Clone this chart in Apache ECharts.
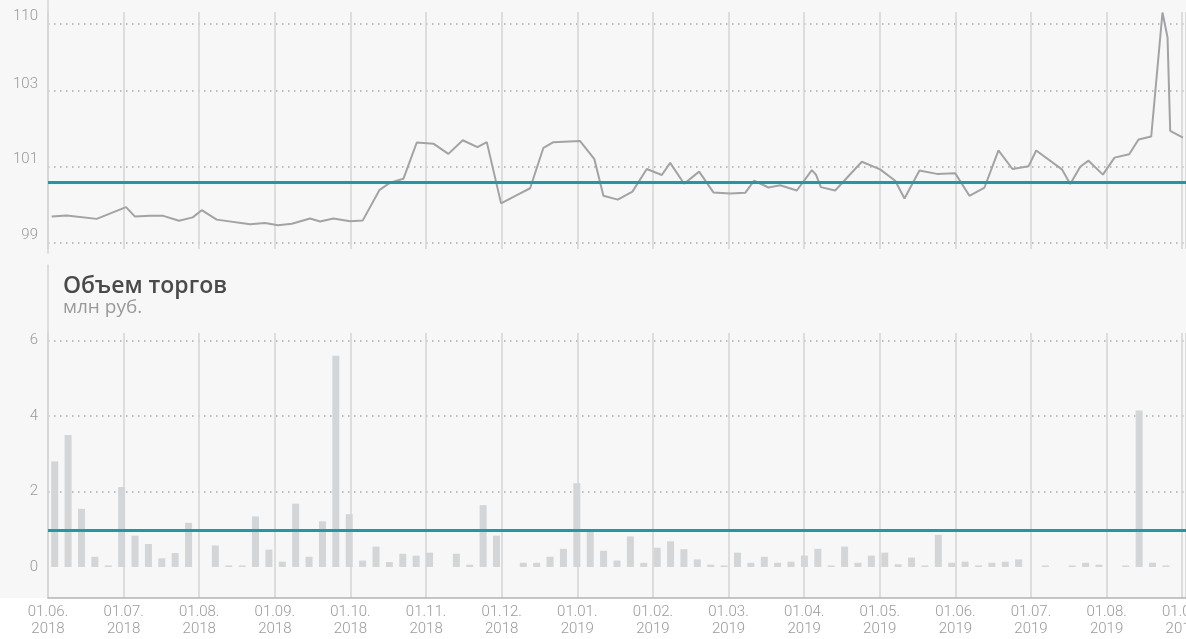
<!DOCTYPE html>
<html>
<head>
<meta charset="utf-8">
<script src="https://cdn.jsdelivr.net/npm/echarts@6/dist/echarts.min.js"></script>
<style>
html, body { margin: 0; padding: 0; background: #fff; }
#chart { width: 1186px; height: 639px; background: linear-gradient(#f7f7f7 598px, #fff 598px); }
</style>
</head>
<body>
<div id="chart"></div>
<script>
// month ticks along the bottom (one per month, evenly spaced)
var monthLabels = ['01.06.\n2018', '01.07.\n2018', '01.08.\n2018', '01.09.\n2018', '01.10.\n2018',
  '01.11.\n2018', '01.12.\n2018', '01.01.\n2019', '01.02.\n2019', '01.03.\n2019', '01.04.\n2019',
  '01.05.\n2019', '01.06.\n2019', '01.07.\n2019', '01.08.\n2019', '01.09.\n2019']

// price line: position in months from 01.06.2018, and price
var priceMonth = [0.049, 0.247, 0.644, 1.032, 1.151, 1.349, 1.525, 1.733, 1.914, 2.033, 2.231, 2.672,
  2.870, 3.042, 3.224, 3.466, 3.598, 3.774, 3.995, 4.163, 4.382, 4.524, 4.700, 4.877, 5.097, 5.295,
  5.485, 5.679, 5.803, 5.992, 6.200, 6.376, 6.552, 6.684, 7.037, 7.226, 7.345, 7.536, 7.729, 7.919,
  8.118, 8.228, 8.413, 8.611, 8.800, 9.021, 9.220, 9.339, 9.528, 9.683, 9.903, 10.102, 10.159, 10.221,
  10.410, 10.763, 11.005, 11.204, 11.327, 11.525, 11.755, 11.997, 12.186, 12.385, 12.570, 12.755,
  12.967, 13.069, 13.409, 13.519, 13.651, 13.761, 13.951, 14.105, 14.299, 14.422, 14.590, 14.739,
  14.806, 14.841, 15.009]
var price = [99.68, 99.71, 99.62, 99.93, 99.68, 99.70, 99.70, 99.57, 99.66, 99.85, 99.60, 99.48,
  99.51, 99.45, 99.49, 99.63, 99.55, 99.63, 99.56, 99.58, 100.38, 100.58, 100.68, 101.64, 101.61, 101.34,
  101.70, 101.52, 101.65, 100.03, 100.25, 100.43, 101.50, 101.65, 101.68, 101.20, 100.23, 100.13, 100.34, 100.94,
  100.78, 101.10, 100.55, 100.87, 100.32, 100.29, 100.31, 100.63, 100.45, 100.51, 100.37, 100.91, 100.78, 100.46,
  100.37, 101.13, 100.93, 100.63, 100.16, 100.90, 100.81, 100.83, 100.23, 100.45, 101.43, 100.94,
  101.01, 101.43, 100.93, 100.54, 101.00, 101.16, 100.79, 101.24, 101.33, 101.72, 101.80, 105.08,
  104.42, 101.95, 101.77]
var priceAvg = 100.59
var priceTicks = [99, 101, 103, 104.79]
var priceTickLabels = ['99', '101', '103', '110']

// trading volume, mln rub, one bar per period
var volume = [2.8, 3.5, 1.54, 0.27, 0.04, 2.12, 0.83, 0.61, 0.23, 0.37, 1.17, 0, 0.57, 0.04, 0.04, 1.34,
  0.46, 0.14, 1.68, 0.27, 1.21, 5.6, 1.40, 0.17, 0.54, 0.13, 0.35, 0.30, 0.38, 0, 0.35, 0.06, 1.64, 0.83,
  0, 0.11, 0.11, 0.27, 0.48, 2.22, 0.95, 0.43, 0.17, 0.81, 0.11, 0.51, 0.68, 0.47, 0.20, 0.06, 0.04, 0.38,
  0.11, 0.27, 0.11, 0.14, 0.30, 0.48, 0.04, 0.54, 0.11, 0.30, 0.38, 0.07, 0.25, 0.04, 0.85, 0.11, 0.14,
  0.04, 0.11, 0.14, 0.20, 0, 0.04, 0, 0.04, 0.11, 0.06, 0, 0.04, 4.15, 0.11, 0.04, null]
var volumeAvg = 0.98
var volumeTicks = [0, 2, 4, 6]

var myChart = echarts.init(document.getElementById('chart'))

var labelFont = { fontFamily: 'Roboto', fontWeight: 300, fontSize: 15, color: '#9a9a9a' }
var monthLine = { lineStyle: { color: '#d4d4d4', width: 1.5 } }
var dotLine = { lineStyle: { color: '#ababab', width: 1.5, type: [1.5, 4.5] } }
var teal = { color: '#1a9ba7', width: 3, type: 'solid' }
var frameLine = { show: true, lineStyle: { color: '#d4d4d4', width: 1.5 } }

var option = {
  animation: false,
  title: {
    text: 'Объем торгов',
    subtext: 'млн руб.',
    left: 58,
    top: 270,
    itemGap: 0,
    textStyle: { fontFamily: 'Open Sans', fontWeight: 600, fontSize: 23, color: '#4a4a4a' },
    subtextStyle: { fontFamily: 'Open Sans', fontWeight: 400, fontSize: 19, color: '#9a9a9a' }
  },
  grid: [
    { left: 48, right: 0, top: 12, height: 237, outerBoundsMode: 'none' },
    { left: 48, right: 0, top: 333, bottom: 41, outerBoundsMode: 'none' },
    { left: 48, width: 1, top: 0, height: 253, outerBoundsMode: 'none' },
    { left: 48, width: 1, top: 265, bottom: 41, outerBoundsMode: 'none' }
  ],
  xAxis: [
    {
      gridIndex: 0, type: 'value', min: 0, max: 15.05, interval: 1,
      axisLine: { show: false }, axisTick: { show: false }, axisLabel: { show: false },
      splitLine: monthLine
    },
    {
      gridIndex: 1, type: 'value', min: 0, max: 15.05, interval: 1,
      axisLine: { show: false }, axisTick: { show: false },
      axisLabel: Object.assign({
        margin: 6, lineHeight: 17,
        formatter: function (v) { return monthLabels[v] || '' }
      }, labelFont),
      splitLine: monthLine
    },
    {
      gridIndex: 1, type: 'category', position: 'bottom', boundaryGap: true,
      data: volume.map(function (v, i) { return String(i + 1) }),
      axisLine: { onZero: true, lineStyle: { color: '#b4b4b4', width: 1.5 } },
      axisTick: { show: false }, axisLabel: { show: false }, splitLine: { show: false }
    },
    { gridIndex: 2, type: 'value', show: false },
    { gridIndex: 3, type: 'value', show: false }
  ],
  yAxis: [
    {
      gridIndex: 0, type: 'value', min: 98.823, max: 105.093,
      axisLine: { show: false },
      axisTick: { show: false, customValues: priceTicks },
      axisLabel: Object.assign({
        customValues: priceTicks, margin: 10, verticalAlign: 'bottom', lineHeight: 14,
        formatter: function (v) { return priceTickLabels[priceTicks.indexOf(v)] }
      }, labelFont),
      splitLine: dotLine
    },
    {
      gridIndex: 1, type: 'value', min: -0.823, max: 6.204,
      axisLine: { show: false },
      axisTick: { show: false, customValues: [2, 4, 6] },
      axisLabel: Object.assign({ customValues: volumeTicks, margin: 10 }, labelFont),
      splitLine: dotLine
    },
    { gridIndex: 2, type: 'value', axisLine: frameLine, axisTick: { show: false }, axisLabel: { show: false }, splitLine: { show: false } },
    { gridIndex: 3, type: 'value', axisLine: frameLine, axisTick: { show: false }, axisLabel: { show: false }, splitLine: { show: false } }
  ],
  series: [
    {
      name: 'price',
      type: 'line',
      xAxisIndex: 0,
      yAxisIndex: 0,
      data: priceMonth.map(function (m, i) { return [m, price[i]] }),
      showSymbol: false,
      lineStyle: { color: '#a3a3a6', width: 2 },
      markLine: {
        silent: true, symbol: 'none', label: { show: false },
        lineStyle: teal,
        data: [{ yAxis: priceAvg }]
      }
    },
    {
      name: 'volume',
      type: 'bar',
      xAxisIndex: 2,
      yAxisIndex: 1,
      data: volume,
      barWidth: 7,
      itemStyle: { color: '#d3d5d6' },
      markLine: {
        silent: true, symbol: 'none', label: { show: false },
        lineStyle: teal,
        data: [{ yAxis: volumeAvg }]
      }
    }
  ]
}

myChart.setOption(option)
</script>
</body>
</html>
